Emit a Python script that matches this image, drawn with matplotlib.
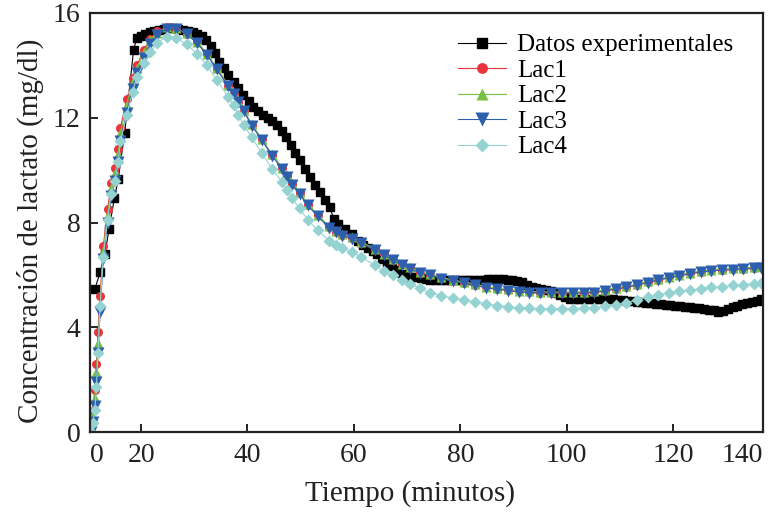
import matplotlib
matplotlib.use("Agg")
import matplotlib.pyplot as plt

plt.rcParams['font.family'] = ['Liberation Serif', 'DejaVu Serif']

# experimental lactate (black squares)
t_exp = [11.3, 12.3, 13.2, 14.0, 15.0, 15.7, 16.9, 18.6, 19.2, 19.9,
         20.8, 21.6, 22.5, 23.4, 24.3, 25.2, 26.1, 27.0, 27.9, 28.8,
         29.7, 30.6, 31.4, 32.2, 33.1, 33.9, 34.7, 35.6, 36.4, 37.4,
         38.3, 39.1, 40.2, 41.1, 42.0, 42.9, 43.8, 44.7, 45.6, 46.5,
         47.3, 48.1, 48.9, 49.9, 50.8, 51.8, 52.7, 53.6, 54.6, 55.5,
         56.2, 57.1, 58.3, 59.6, 60.8, 61.7, 62.6, 63.5, 64.4, 65.3,
         66.2, 67.1, 68.0, 69.0, 69.9, 70.8, 71.7, 72.6, 73.5, 74.4,
         75.4, 76.3, 77.2, 78.1, 79.0, 79.9, 80.8, 81.7, 82.6, 83.5,
         84.4, 85.3, 86.2, 87.1, 88.0, 88.9, 89.8, 90.7, 91.6, 92.5,
         93.4, 94.3, 95.2, 96.1, 97.0, 97.9, 98.8, 99.7, 100.6, 101.5,
         102.4, 103.3, 104.2, 105.1, 106.0, 106.9, 107.8, 108.7, 109.6, 110.5,
         111.4, 112.3, 113.2, 114.1, 115.0, 115.9, 116.8, 117.7, 118.6, 119.5,
         120.4, 121.3, 122.2, 123.1, 124.0, 124.9, 125.8, 126.7, 127.6, 128.5,
         129.4, 130.3, 131.2, 132.1, 133.0, 133.9, 134.8, 135.7, 136.6]
lac_exp = [5.45, 6.1, 6.8, 7.75, 8.95, 9.65, 11.4, 14.6, 15.05, 15.12,
           15.2, 15.27, 15.32, 15.36, 15.39, 15.41, 15.41, 15.39, 15.36, 15.32,
           15.27, 15.2, 15.12, 14.97, 14.74, 14.46, 14.14, 13.89, 13.63, 13.37,
           13.12, 12.87, 12.63, 12.42, 12.25, 12.12, 12.0, 11.88, 11.72, 11.5,
           11.25, 10.95, 10.65, 10.38, 10.05, 9.75, 9.45, 9.15, 8.85, 8.6,
           8.12, 7.96, 7.77, 7.55, 7.3, 7.15, 7.02, 6.93, 6.8, 6.6,
           6.45, 6.32, 6.2, 6.05, 5.97, 5.92, 5.9, 5.87, 5.85, 5.82,
           5.8, 5.8, 5.8, 5.8, 5.82, 5.82, 5.82, 5.82, 5.82, 5.82,
           5.82, 5.83, 5.83, 5.83, 5.83, 5.82, 5.8, 5.78, 5.72, 5.62,
           5.55, 5.5, 5.45, 5.42, 5.38, 5.32, 5.25, 5.15, 5.08, 5.07,
           5.07, 5.08, 5.08, 5.08, 5.08, 5.08, 5.07, 5.06, 5.05, 5.03,
           5.01, 5.0, 4.97, 4.96, 4.94, 4.92, 4.9, 4.88, 4.86, 4.85,
           4.83, 4.81, 4.79, 4.77, 4.74, 4.72, 4.7, 4.67, 4.64, 4.6,
           4.62, 4.7, 4.77, 4.83, 4.88, 4.92, 4.96, 5.02, 5.07]

# model curves
t_model = [10.5, 10.9, 11.3, 11.6, 11.9, 12.3, 12.9, 13.7, 14.4, 15.1,
           15.7, 16.1, 17.3, 18.4, 19.2, 20.6, 21.7, 23.0, 24.8, 26.5,
           28.6, 30.5, 32.4, 34.2, 36.4, 37.4, 38.3, 39.3, 40.8, 42.7,
           44.6, 46.5, 47.4, 48.4, 49.8, 51.3, 53.2, 55.3, 56.6, 57.8,
           59.6, 61.4, 63.9, 65.7, 67.3, 69.0, 70.6, 72.4, 74.3, 76.4,
           78.6, 80.7, 82.8, 84.9, 86.9, 88.9, 91.0, 93.0, 95.0, 97.1,
           99.1, 101.1, 103.2, 105.2, 107.2, 109.2, 111.2, 113.2, 115.2, 117.2,
           119.2, 121.2, 123.2, 125.2, 127.2, 129.2, 131.2, 133.2, 135.2, 136.5]
lac1 = [0.0, 0.8, 1.6, 2.6, 3.8, 5.2, 7.1, 8.5, 9.5, 10.1,
        10.8, 11.6, 12.7, 13.5, 14.0, 14.6, 15.0, 15.3, 15.45, 15.4,
        15.2, 14.88, 14.42, 13.88, 13.22, 12.92, 12.62, 12.27, 11.72, 11.17,
        10.57, 10.07, 9.77, 9.47, 9.12, 8.67, 8.27, 7.82, 7.64, 7.52,
        7.4, 7.22, 6.97, 6.78, 6.58, 6.4, 6.26, 6.08, 6.0, 5.88,
        5.77, 5.7, 5.62, 5.52, 5.47, 5.42, 5.37, 5.34, 5.32, 5.32,
        5.32, 5.32, 5.32, 5.34, 5.4, 5.47, 5.54, 5.62, 5.72, 5.82,
        5.9, 5.98, 6.06, 6.12, 6.17, 6.2, 6.22, 6.24, 6.27, 6.29]
lac2 = [0.0, 0.6, 1.3, 2.3, 3.4, 4.9, 6.9, 8.3, 9.3, 9.9,
        10.6, 11.4, 12.5, 13.35, 13.9, 14.5, 14.95, 15.25, 15.45, 15.42,
        15.22, 14.9, 14.45, 13.9, 13.25, 12.95, 12.65, 12.3, 11.75, 11.2,
        10.6, 10.1, 9.8, 9.5, 9.15, 8.7, 8.3, 7.85, 7.67, 7.55,
        7.43, 7.25, 7.0, 6.81, 6.61, 6.43, 6.29, 6.11, 6.03, 5.91,
        5.8, 5.73, 5.65, 5.55, 5.5, 5.45, 5.4, 5.37, 5.35, 5.35,
        5.35, 5.35, 5.35, 5.37, 5.43, 5.5, 5.57, 5.65, 5.75, 5.85,
        5.93, 6.01, 6.09, 6.15, 6.2, 6.23, 6.25, 6.27, 6.3, 6.32]
lac3 = [0.0, 0.4, 1.0, 1.9, 3.0, 4.6, 6.6, 8.0, 9.0, 9.6,
        10.3, 11.1, 12.2, 13.1, 13.7, 14.3, 14.8, 15.15, 15.4, 15.4,
        15.2, 14.85, 14.4, 13.85, 13.2, 12.9, 12.6, 12.25, 11.7, 11.15,
        10.55, 10.05, 9.75, 9.45, 9.1, 8.65, 8.25, 7.8, 7.62, 7.5,
        7.38, 7.2, 6.95, 6.76, 6.56, 6.38, 6.24, 6.06, 5.98, 5.86,
        5.75, 5.68, 5.6, 5.5, 5.45, 5.4, 5.35, 5.32, 5.3, 5.3,
        5.3, 5.3, 5.3, 5.32, 5.38, 5.45, 5.52, 5.6, 5.7, 5.8,
        5.88, 5.96, 6.04, 6.1, 6.15, 6.18, 6.2, 6.22, 6.25, 6.27]
lac4 = [0.0, 0.35, 0.85, 1.7, 3.0, 4.8, 6.7, 8.1, 9.1, 9.6,
        10.3, 11.1, 12.1, 13.0, 13.55, 14.1, 14.5, 14.85, 15.1, 15.05,
        14.8, 14.45, 14.0, 13.45, 12.8, 12.48, 12.1, 11.72, 11.25, 10.65,
        10.05, 9.55, 9.24, 8.92, 8.54, 8.1, 7.71, 7.3, 7.13, 7.01,
        6.88, 6.68, 6.37, 6.15, 5.98, 5.8, 5.66, 5.48, 5.32, 5.2,
        5.12, 5.05, 4.97, 4.9, 4.83, 4.78, 4.74, 4.72, 4.71, 4.71,
        4.71, 4.71, 4.72, 4.75, 4.8, 4.86, 4.93, 5.05, 5.15, 5.25,
        5.32, 5.38, 5.42, 5.47, 5.52, 5.55, 5.6, 5.63, 5.67, 5.68]

# axis range as drawn in the figure (label "0" sits at the left edge, "140" at the right edge)
x_min, x_max = 10.4, 136.9
x_ticks = [x_min, 20, 40, 60, 80, 100, 120, x_max]
x_ticklabels = ['0', '20', '40', '60', '80', '100', '120', '140']
y_ticks = [0, 4, 8, 12, 16]

fig = plt.figure(figsize=(7.7, 5.13), dpi=100)
ax = fig.add_axes([90 / 770, 1 - 432 / 513, 673 / 770, 419 / 513])

ax.plot(t_exp, lac_exp, color='black', lw=0.8, marker='s', ms=5.8, mec='black',
        label='Datos experimentales')
ax.plot(t_model, lac1, color='#e8343a', lw=0.8, marker='o', ms=6.5, mec='none', label='Lac1')
ax.plot(t_model, lac2, color='#77c043', lw=0.8, marker='^', ms=7, mec='none', label='Lac2')
ax.plot(t_model, lac3, color='#2e5fae', lw=0.8, marker='v', ms=8, mec='none', label='Lac3')
ax.plot(t_model, lac4, color='#95d3d3', lw=0.8, marker='D', ms=6, mec='none', label='Lac4')

ax.set_xlim(x_min, x_max)
ax.set_ylim(0, 16)
ax.set_xticks(x_ticks)
ax.set_xticklabels(x_ticklabels)
ax.set_yticks(y_ticks)
ax.tick_params(direction='in', length=6, width=1.4, labelsize=20, colors='#222222')
ax.tick_params(axis='x', pad=8)
ax.tick_params(axis='y', pad=7)
xlabels = ax.get_xticklabels()
xlabels[0].set_horizontalalignment('left')
xlabels[-1].set_horizontalalignment('right')
for sp in ax.spines.values():
    sp.set_linewidth(1.6)
    sp.set_color('#222222')

ax.set_xlabel('Tiempo (minutos)', fontsize=21, color='#222222')
ax.set_ylabel('Concentración de lactato (mg/dl)', fontsize=21, color='#222222')
ax.xaxis.set_label_coords(0.475, -0.115)
ax.yaxis.set_label_coords(-0.068, 0.48)

ax.legend(loc='upper left', bbox_to_anchor=(0.547, 0.95), frameon=False, fontsize=18,
          borderpad=0, borderaxespad=0, handlelength=1.9, handletextpad=0.45,
          labelspacing=0.12, markerscale=1.2)

fig.savefig('out.png', dpi=100)
